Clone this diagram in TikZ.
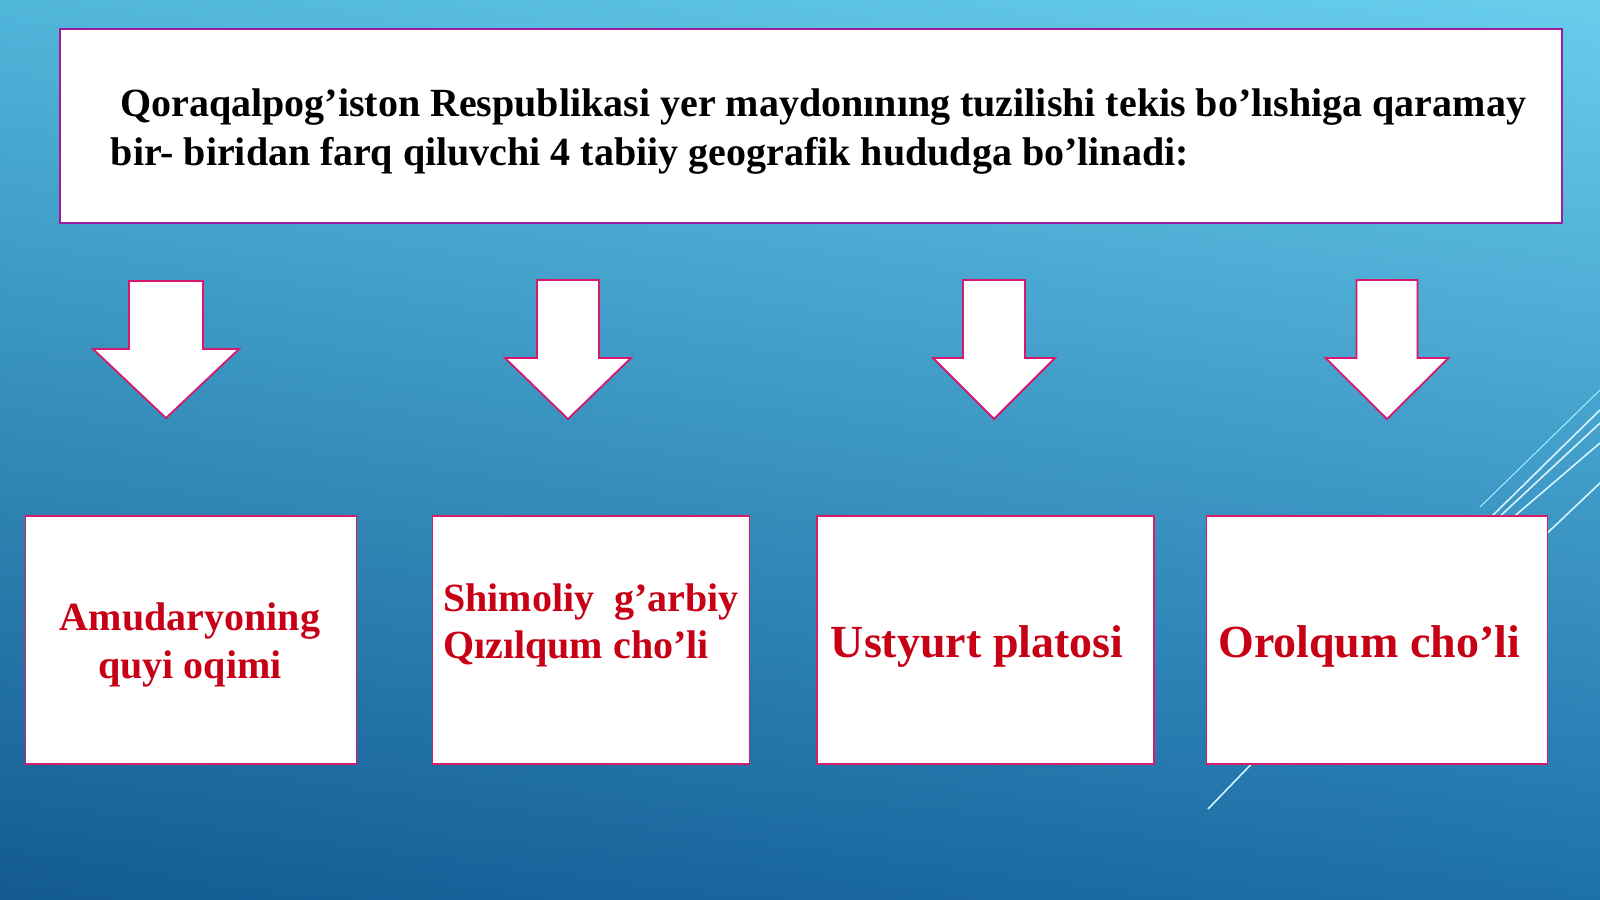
\documentclass[tikz,border=0pt]{standalone}
\usepackage{fontspec}
\setmainfont{Liberation Serif}
\usetikzlibrary{shadings}
\definecolor{bgtl}{RGB}{80,182,218}
\definecolor{bgtr}{RGB}{104,206,236}
\definecolor{bgbl}{RGB}{19,90,146}
\definecolor{bgbr}{RGB}{30,112,170}
\definecolor{headline}{RGB}{160,28,156}
\definecolor{boxline}{RGB}{212,30,106}
\definecolor{arrline}{RGB}{214,24,110}
\definecolor{redtext}{RGB}{200,0,22}
\definecolor{streakc}{RGB}{215,245,252}
\tikzset{
  headbox/.style={draw=headline, fill=white, line width=1.8pt, inner sep=0pt, anchor=north west},
  regionbox/.style={draw=boxline, fill=white, line width=1.8pt, inner sep=0pt, anchor=north west, minimum height=248pt},
  arrowshape/.style={draw=arrline, fill=white, line width=1.8pt, line join=miter},
  headtext/.style={inner sep=0pt, anchor=base west, font=\fontsize{40}{48}\selectfont\bfseries},
  regiontext/.style={inner sep=0pt, text=redtext, font=\fontsize{40}{47}\selectfont\bfseries},
  bigregiontext/.style={inner sep=0pt, anchor=base west, text=redtext, font=\fontsize{46}{54}\selectfont\bfseries},
  streak/.style={draw=streakc, line width=1.6pt},
  thinstreak/.style={draw=streakc!80!cyan, line width=0.9pt}
}
\begin{document}
\begin{tikzpicture}[line cap=butt, x=1pt, y=-1pt]
\useasboundingbox (0,0) rectangle (1600,899);
% background
\shade[upper left=bgtl, upper right=bgtr, lower left=bgbl, lower right=bgbr] (0,0) rectangle (1600,899);
% streaks on the right
\draw[thinstreak] (1480,507) -- (1600,390);
\draw[streak] (1488,520) -- (1600,410);
\draw[streak] (1496,520) -- (1600,423);
\draw[streak] (1510,520) -- (1600,443);
\draw[streak] (1540,540) -- (1600,483);
\draw[streak] (1208,809) -- (1262,753);
% title box
\node[headbox, minimum width=1502pt, minimum height=194pt] (head) at (59,28) {};
\node[headtext] (headA) at (120,116.7) {Qoraqalpog’iston Respublikasi yer maydonınıng tuzilishi tekis bo’lıshiga qaramay};
\node[headtext] (headB) at (110.7,165) {bir- biridan farq qiluvchi 4 tabiiy geografik hududga bo’linadi:};
% block arrows
\foreach \cx/\sw/\hw/\top/\sh/\tip in {166/37/73/281/349/418, 568/31/63/280/358/419, 994/31/61/280/358/419, 1387/30.5/61.5/280/358/419}
  \draw[arrowshape] (\cx-\sw,\top) -- (\cx+\sw,\top) -- (\cx+\sw,\sh) -- (\cx+\hw,\sh)
    -- (\cx,\tip) -- (\cx-\hw,\sh) -- (\cx-\sw,\sh) -- cycle;
% region boxes
\node[regionbox, minimum width=331pt] (amu) at (24.5,515) {};
\node[regionbox, minimum width=317pt] (shi) at (431.6,515) {};
\node[regionbox, minimum width=337pt] (ust) at (816,515) {};
\node[regionbox, minimum width=341pt] (oro) at (1205.6,515) {};
\node[regiontext, anchor=base] (amuA) at (190,630) {Amudaryoning};
\node[regiontext, anchor=base] (amuB) at (190,678) {quyi oqimi};
\node[regiontext, anchor=base west] (shiA) at (443,611) {Shimoliy\ \ g’arbiy};
\node[regiontext, anchor=base west] (shiB) at (443,658) {Qızılqum cho’li};
\node[bigregiontext] (ustA) at (830.6,657) {Ustyurt platosi};
\node[bigregiontext] (oroA) at (1218,657) {Orolqum cho’li};
\end{tikzpicture}
\end{document}
